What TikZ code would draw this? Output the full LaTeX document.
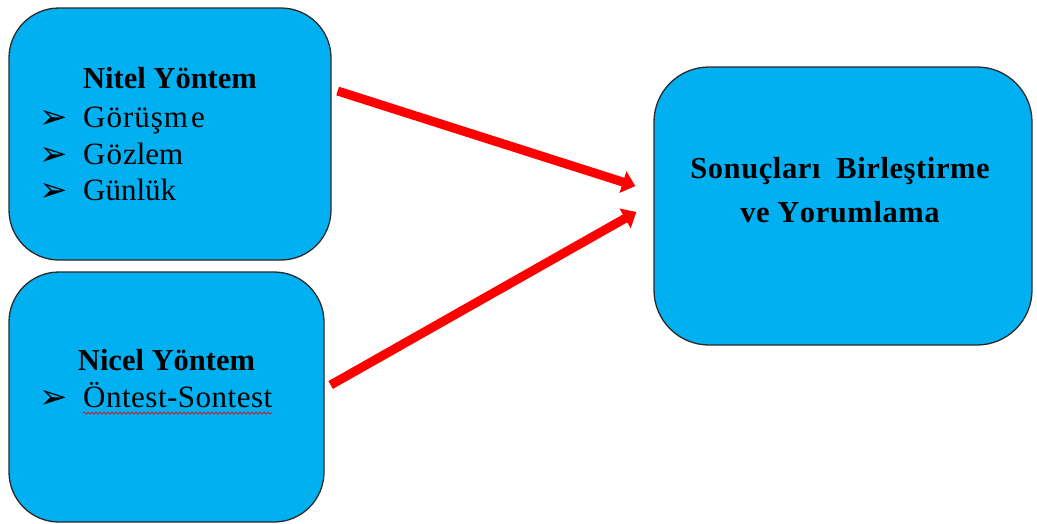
\documentclass[tikz,border=0pt]{standalone}
\usepackage{fontspec}
\setmainfont{Liberation Serif}
\newfontfamily\symfont{DejaVu Sans}
\usetikzlibrary{arrows.meta,calc,decorations.pathmorphing}
\definecolor{boxblue}{HTML}{00B0F0}
\definecolor{boxline}{HTML}{2A2A2A}
\definecolor{flowred}{HTML}{FF0000}
\tikzset{
  methodbox/.style={draw=boxline, line width=1.3pt, fill=boxblue, rounded corners=50pt, inner sep=0pt},
  titletext/.style={font=\fontsize{30.5}{30}\selectfont\bfseries, inner sep=0pt, anchor=base},
  itemtext/.style={font=\fontsize{31}{31}\selectfont, inner sep=0pt, anchor=base west},
  bullettext/.style={font=\symfont\fontsize{34}{34}\selectfont, inner sep=0pt, anchor=center},
  flow/.style={draw=flowred, line width=9pt, -{Triangle[length=13pt,width=22pt]}},
  spell/.style={draw=flowred, line width=0.7pt, decorate, decoration={snake, segment length=4pt, amplitude=1pt}}
}
\begin{document}
\begin{tikzpicture}[x=1pt, y=-1pt]
\useasboundingbox (0,0) rectangle (1037,523);

% three boxes
\node[methodbox, minimum width=322pt, minimum height=252pt] (nitel) at (170,134) {};
\node[methodbox, minimum width=315pt, minimum height=250pt] (nicel) at (166.5,397) {};
\node[methodbox, rounded corners=55pt, minimum width=378pt, minimum height=278pt] (sonuc) at (843,206) {};

% qualitative methods
\node[titletext] (nitelT) at (170,88) {Nitel Yöntem};
\node[bullettext] (b1) at (54,119) {➢};
\node[bullettext] (b2) at (54,156) {➢};
\node[bullettext] (b3) at (54,192) {➢};
\node[itemtext] (i1) at (83,127) {G\kern1ptö\kern1ptr\kern1ptü\kern1ptş\kern1ptm\kern3pte};
\node[itemtext] (i2) at (83,164) {G\kern1ptö\kern1ptzlem};
\node[itemtext] (i3) at (83,200) {Günlük};

% quantitative methods
\node[titletext] (nicelT) at (166.5,370) {Nicel Yöntem};
\node[bullettext] (b4) at (54,399) {➢};
\node[itemtext] (i4) at (83,407) {Ö\kern0.5ptn\kern0.5ptt\kern0.5pte\kern0.5pts\kern0.5ptt\kern0.5pt-\kern0.5ptS\kern0.5pto\kern0.5ptn\kern0.5ptt\kern0.5pte\kern0.5pts\kern0.5ptt};
\coordinate (w1) at ($(i4.base west)+(0,6)$);
\coordinate (w2) at ($(i4.base east)+(0,6)$);
\draw[spell] (w1) -- (w2);

% combining the results
\node[titletext] (sonucT1) at (840,178) {S\kern0.6pto\kern0.6ptn\kern0.6ptu\kern0.6ptç\kern0.6ptl\kern0.6pta\kern0.6ptr\kern0.6ptı\kern0.6pt\ \ B\kern0.6pti\kern0.6ptr\kern0.6ptl\kern0.6pte\kern0.6ptş\kern0.6ptt\kern0.6pti\kern0.6ptr\kern0.6ptm\kern0.6pte};
\node[titletext] (sonucT2) at (840,222) {v\kern0.6pte Y\kern0.6pto\kern0.6ptr\kern0.6ptu\kern0.6ptm\kern0.6ptl\kern0.6pta\kern0.6ptm\kern0.6pta};

% connectors
\coordinate (a1s) at ($(nitel.east)+(6,-43)$);
\coordinate (a1e) at ($(sonuc.west)+(-18,-20)$);
\coordinate (a2s) at ($(nicel.east)+(6,-12)$);
\coordinate (a2e) at ($(sonuc.west)+(-17,6)$);
\draw[flow] (a1s) -- (a1e);
\draw[flow] (a2s) -- (a2e);
\end{tikzpicture}
\end{document}
